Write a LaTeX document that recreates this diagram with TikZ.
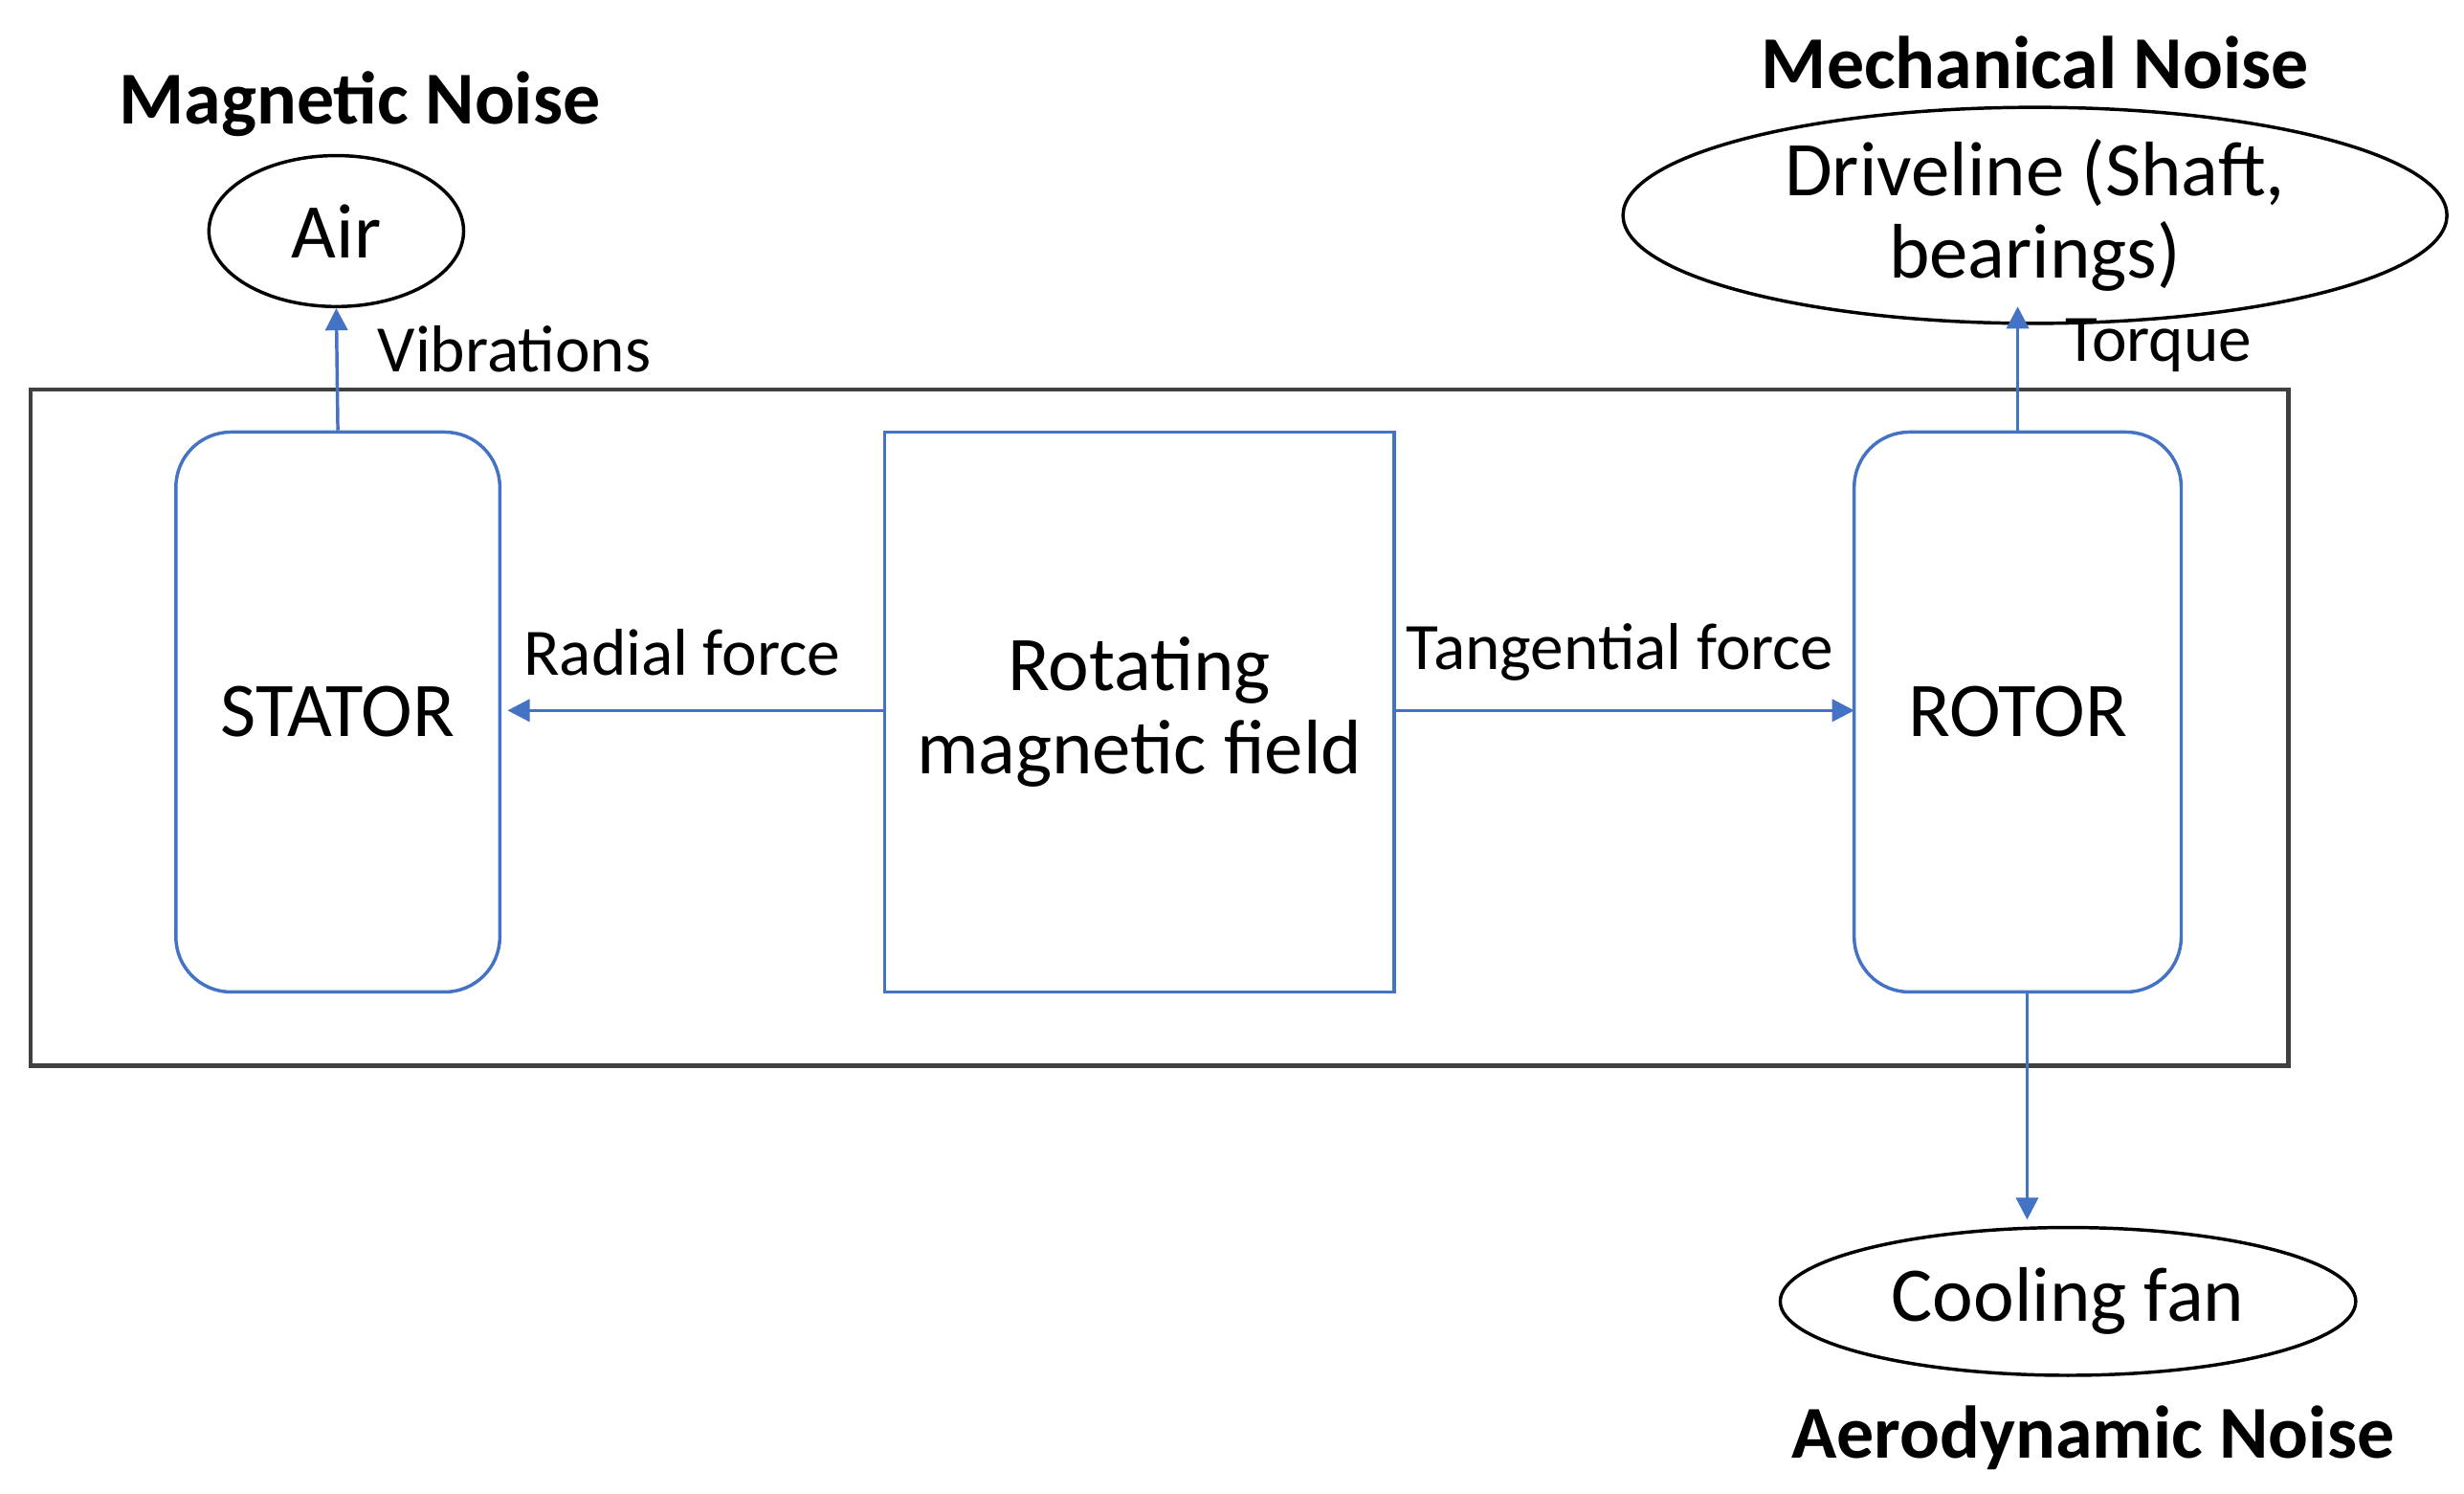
\documentclass[tikz,border=0pt]{standalone}
\usepackage{fontspec}
\setmainfont{Carlito}
\usetikzlibrary{shapes.geometric,arrows.meta}
\definecolor{bl}{RGB}{68,114,196}
\begin{document}
\begin{tikzpicture}[x=0.01cm,y=-0.01cm,
  box/.style={draw=bl,line width=0.6pt,inner sep=0pt},
  ell/.style={draw=black,ellipse,line width=0.6pt,inner sep=0pt,font=\fontsize{14pt}{15pt}\selectfont,align=center},
  arr/.style={draw=bl,line width=0.6pt,-{Triangle[width=4pt,length=4pt]}},
  lab/.style={font=\fontsize{12pt}{13pt}\selectfont,anchor=west},
  head/.style={font=\bfseries\fontsize{13.5pt}{14pt}\selectfont},
  big/.style={font=\fontsize{14pt}{15pt}\selectfont,align=center}]
\useasboundingbox (0,0) rectangle (1568,950);
\node[draw=black!75,line width=0.8pt,minimum width=14.36cm,minimum height=4.3cm,inner sep=0pt] (outer) at (738,463) {};
\node[box,rounded corners=0.35cm,minimum width=2.06cm,minimum height=3.56cm,big] (stator) at (215,453) {STATOR};
\node[box,minimum width=3.24cm,minimum height=3.56cm,big] (field) at (725,453) {Rotating\\magnetic field};
\node[box,rounded corners=0.35cm,minimum width=2.08cm,minimum height=3.56cm,big] (rotor) at (1284,453) {ROTOR};
\node[ell,minimum width=1.62cm,minimum height=0.96cm] (air) at (214,147) {Air};
\node[ell,minimum width=5.24cm,minimum height=1.16cm] (drive) at (1295,137) {Driveline (Shaft,\\bearings)};
\node[ell,minimum width=3.66cm,minimum height=0.94cm] (fan) at (1316,828) {Cooling fan};
\node[head] (mag) at (229,66) {Magnetic Noise};
\node[head] (mech) at (1295,40) {Mechanical Noise};
\node[head] (aero) at (1332,915) {Aerodynamic Noise};
\draw[arr] (stator.north) -- (air.south);
\node[lab] (vib) at (228,222) {Vibrations};
\coordinate (rt) at (1284,275);
\coordinate (dt) at (1284,195);
\draw[arr] (rt) -- (dt);
\node[lab] (tq) at (1302,220) {Torque};
\coordinate (rb) at (1290,631);
\coordinate (ft) at (1290,776);
\draw[arr] (rb) -- (ft);
\coordinate (sr) at (323,452);
\coordinate (rl) at (1180,452);
\draw[arr] (field.west |- sr) -- (sr);
\draw[arr] (field.east |- rl) -- (rl);
\node[font=\fontsize{12pt}{13pt}\selectfont] (rf) at (434,415) {Radial force};
\node[font=\fontsize{12pt}{13pt}\selectfont] (tf) at (1031,415) {Tangential force};
\end{tikzpicture}
\end{document}
